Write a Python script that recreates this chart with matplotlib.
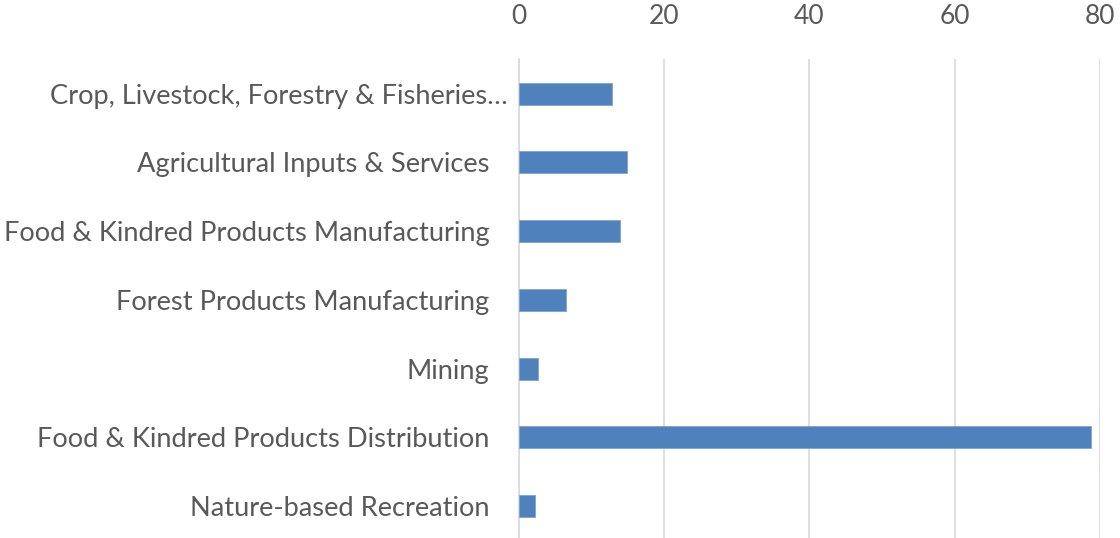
import matplotlib
matplotlib.use("Agg")
import matplotlib.pyplot as plt
import matplotlib.transforms as mtransforms

categories = [
    "Crop, Livestock, Forestry & Fisheries\u2026",
    "Agricultural Inputs & Services",
    "Food & Kindred Products Manufacturing",
    "Forest Products Manufacturing",
    "Mining",
    "Food & Kindred Products Distribution",
    "Nature-based Recreation",
]
values = [12.8, 14.95, 13.9, 6.5, 2.7, 78.8, 2.2]
xticks = [0, 20, 40, 60, 80]

plt.rcParams['font.family'] = ['Lato', 'DejaVu Sans']

W, H = 1120, 538
fig = plt.figure(figsize=(W / 100, H / 100), dpi=100)
left, right = 518.6, 1100
top = 59.4
ax = fig.add_axes([left / W, 0, (right - left) / W, (H - top) / H])

pos = list(range(len(categories)))
ax.barh(pos, values, height=0.32, color='#4F81BD', edgecolor='#7FA3D0', linewidth=0.6, zorder=3)

ax.set_xlim(0, 80)
ax.set_ylim(6.5 - 2.4 / 68.7, -0.5)
ax.set_xticks(xticks)
ax.set_yticks(pos)
ax.set_yticklabels(categories, fontsize=19.6)
ax.xaxis.tick_top()
ax.grid(axis='x', color='#D9D9D9', linewidth=1.2, zorder=0)

for s in ['top', 'right', 'bottom']:
    ax.spines[s].set_visible(False)
ax.spines['left'].set_color('#D9D9D9')
ax.spines['left'].set_linewidth(1.2)

ax.tick_params(axis='both', length=0, colors='#595959')
ax.tick_params(axis='x', labelsize=19, pad=22)
ax.tick_params(axis='y', pad=21)

# excel pushes the truncated label a bit further right
lab = ax.get_yticklabels()[0]
lab.set_transform(lab.get_transform() + mtransforms.ScaledTranslation(18 / 100, 0, fig.dpi_scale_trans))

fig.savefig('out.png', dpi=100)
